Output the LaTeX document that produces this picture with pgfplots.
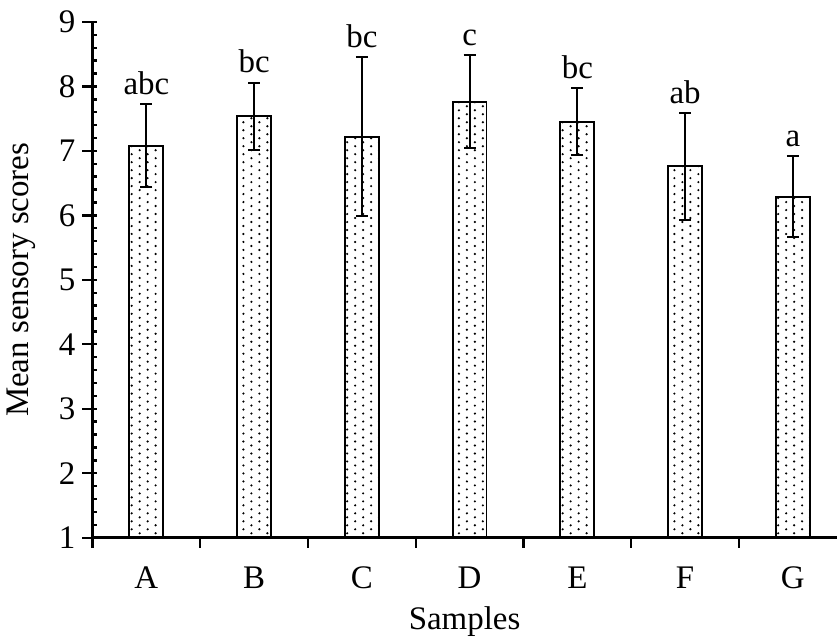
\documentclass[border=0pt]{standalone}
\usepackage{pgfplots}
\pgfplotsset{compat=1.18}
\usetikzlibrary{patterns.meta}
\usepackage{fontspec}
\setmainfont{Liberation Serif}

\newcommand{\fs}{\fontsize{16.5}{19}\selectfont}

% staggered dot fill of the bars
\tikzdeclarepattern{
  name=sdots,
  type=uncolored,
  bottom left={(-0.1pt,-0.1pt)},
  top right={(8.1pt,4.1pt)},
  tile size={(8pt,4pt)},
  code={
    \fill (2pt,1pt) circle (0.6pt);
    \fill (6pt,3pt) circle (0.6pt);
  }
}

\begin{document}
\begin{tikzpicture}
\begin{axis}[
    scale only axis,
    width=373pt, height=258.5pt,
    xmin=-0.5, xmax=6.407,
    ymin=1, ymax=9,
    axis lines*=left,
    axis line style={line width=1.3pt},
    tick style={line width=1.2pt, black},
    tick align=inside,
    major tick length=2.5pt,
    minor tick length=2.5pt,
    ytick={1,2,...,9},
    minor y tick num=4,
    extra y ticks={1,2,...,9},
    extra y tick labels={},
    extra y tick style={tick align=outside, major tick length=5pt},
    xtick={0,1,...,6},
    xticklabels={A,B,C,D,E,F,G},
    xtick style={draw=none},
    extra x ticks={-0.5,0.5,...,5.5},
    extra x tick labels={},
    extra x tick style={tick align=outside, major tick length=5pt, xtick style={draw=black}},
    /pgf/number format/assume math mode=true,
    tick label style={font=\fs},
    xticklabel style={yshift=-11pt},
    yticklabel style={xshift=-5pt},
    label style={font=\fs},
    xlabel={Samples},
    xlabel style={yshift=3pt},
    ylabel={Mean sensory scores},
]
\addplot[ybar, bar width=17pt, draw=black, line width=0.9pt,
    pattern={sdots}, pattern color=black,
    error bars/.cd, y dir=both, y explicit,
    error bar style={line width=1pt, black},
    error mark options={rotate=90, mark size=3pt, line width=1pt, black}]
coordinates {
    (0,7.08) +- (0,0.64)
    (1,7.54) +- (0,0.52)
    (2,7.22) +- (0,1.23)
    (3,7.76) +- (0,0.72)
    (4,7.45) +- (0,0.52)
    (5,6.76) +- (0,0.83)
    (6,6.29) +- (0,0.63)
};
% significance letters above the error bars
\addplot[draw=none, mark=none, nodes near coords, point meta=explicit symbolic,
    every node near coord/.append style={font=\fs, anchor=south, inner sep=0pt, yshift=4.5pt}]
coordinates {
    (0,7.72) [abc]
    (1,8.06) [bc]
    (2,8.45) [bc]
    (3,8.48) [c]
    (4,7.97) [bc]
    (5,7.59) [ab]
    (6,6.92) [a]
};
\end{axis}
\path (current axis.south west) ++(-46pt,-48.5pt) rectangle ++(419pt,318pt);
\end{tikzpicture}
\end{document}
